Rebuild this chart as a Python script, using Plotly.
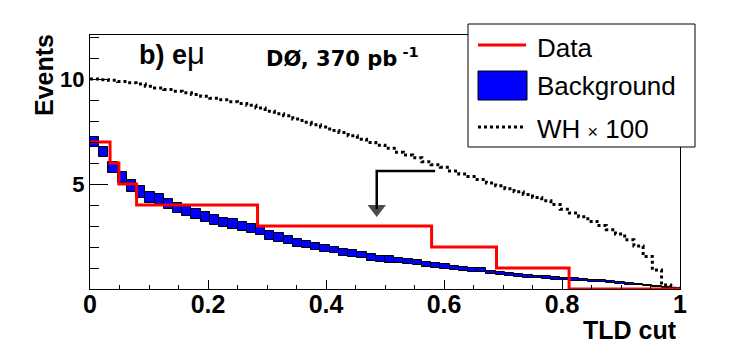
import plotly.graph_objects as go

# ---------------- data ----------------
n_bins = 64
bin_width = 1.0 / n_bins
bin_left = [i * bin_width for i in range(n_bins)]
bin_centers = [(i + 0.5) * bin_width for i in range(n_bins)]

# expected background (cumulative, events passing cut) and its uncertainty
bkg_center = [6.99, 6.52, 5.79, 5.30, 4.90, 4.61, 4.36, 4.29, 4.05, 3.84,
              3.74, 3.56, 3.41, 3.28, 3.18, 3.08, 2.96, 2.88, 2.75, 2.54,
              2.45, 2.34, 2.19, 2.12, 2.03, 1.95, 1.86, 1.75, 1.70, 1.62,
              1.49, 1.44, 1.40, 1.36, 1.31, 1.25, 1.18, 1.12, 1.07, 1.01,
              0.95, 0.90, 0.90, 0.79, 0.73, 0.68, 0.64, 0.60, 0.57, 0.54,
              0.50, 0.48, 0.46, 0.42, 0.40, 0.36, 0.34, 0.29, 0.24, 0.22,
              0.17, 0.12, 0.07, 0.03]
bkg_err = [0.24, 0.25, 0.27, 0.26, 0.29, 0.29, 0.25, 0.24, 0.26, 0.24,
           0.25, 0.24, 0.24, 0.23, 0.22, 0.24, 0.21, 0.20, 0.19, 0.21,
           0.20, 0.20, 0.18, 0.18, 0.17, 0.17, 0.16, 0.17, 0.16, 0.16,
           0.16, 0.15, 0.15, 0.14, 0.12, 0.12, 0.11, 0.10, 0.10, 0.10,
           0.10, 0.10, 0.10, 0.09, 0.08, 0.08, 0.07, 0.07, 0.06, 0.06,
           0.06, 0.06, 0.06, 0.05, 0.05, 0.05, 0.05, 0.04, 0.04, 0.04,
           0.03, 0.02, 0.02, 0.01]

# WH signal x 100
signal = [10.00, 9.97, 9.94, 9.88, 9.82, 9.76, 9.66, 9.58, 9.50, 9.42,
          9.35, 9.27, 9.18, 9.09, 9.01, 8.92, 8.84, 8.75, 8.62, 8.47,
          8.35, 8.25, 8.10, 7.94, 7.83, 7.72, 7.55, 7.45, 7.30, 7.13,
          6.98, 6.85, 6.70, 6.52, 6.38, 6.25, 6.06, 5.92, 5.80, 5.62,
          5.48, 5.36, 5.22, 5.05, 4.92, 4.78, 4.63, 4.50, 4.36, 4.20,
          4.02, 3.80, 3.62, 3.44, 3.22, 3.02, 2.82, 2.62, 2.35, 2.05,
          1.55, 0.90, 0.19, 0.04]

# observed data (cumulative counts)
data_edges = [0.0, 0.034, 0.049, 0.079, 0.284, 0.579, 0.689, 0.812, 1.0]
data_counts = [7, 6, 5, 4, 3, 2, 1, 0]

# chosen cut arrow (tail -> corner -> head)
arrow_x = [0.585, 0.486, 0.486]
arrow_y = [5.62, 5.62, 3.81]

x_tick_vals = [0, 0.2, 0.4, 0.6, 0.8, 1.0]
x_tick_text = ["0", "0.2", "0.4", "0.6", "0.8", "1"]
y_tick_vals = [5, 10]
y_tick_text = ["5", "10"]

# ---------------- figure ----------------
fig = go.Figure()

fig.add_trace(go.Bar(
    x=bin_centers,
    y=[2 * e for e in bkg_err],
    base=[c - e for c, e in zip(bkg_center, bkg_err)],
    width=bin_width,
    marker=dict(color="#0000ff", line=dict(color="black", width=1)),
    showlegend=False,
    hoverinfo="skip",
))

fig.add_trace(go.Scatter(
    x=bin_left + [1.0],
    y=signal + [signal[-1]],
    mode="lines",
    line=dict(color="black", width=3, dash="3px,3px", shape="hv"),
    showlegend=False,
    hoverinfo="skip",
))

fig.add_trace(go.Scatter(
    x=data_edges,
    y=data_counts + [data_counts[-1]],
    mode="lines",
    line=dict(color="#ff0000", width=3, shape="hv"),
    showlegend=False,
    hoverinfo="skip",
))

# arrow marking the chosen cut
fig.add_trace(go.Scatter(
    x=arrow_x, y=arrow_y,
    mode="lines+markers",
    line=dict(color="black", width=2.5),
    marker=dict(symbol="triangle-down", size=[0, 0, 16], color="black",
                line=dict(width=0)),
    showlegend=False,
    hoverinfo="skip",
))

FONT = "Liberation Sans, Arial, Helvetica, sans-serif"

fig.update_layout(
    width=756, height=352,
    margin=dict(l=90, r=76, t=35, b=63, pad=0),
    paper_bgcolor="white", plot_bgcolor="white",
    bargap=0,
    showlegend=False,
    font=dict(family=FONT, color="black"),
    xaxis=dict(
        range=[0, 1], showgrid=False, zeroline=False,
        showline=True, linecolor="black", linewidth=1, mirror=True,
        ticks="inside", ticklen=9, tickwidth=1, tickcolor="black",
        tickmode="array", tickvals=x_tick_vals, ticktext=x_tick_text,
        ticklabelstandoff=-7,
        tickfont=dict(family=FONT, size=25, weight="bold", color="black"),
        minor=dict(ticks="inside", ticklen=4, tickwidth=1, tickcolor="black",
                   tickmode="linear", tick0=0, dtick=0.05, showgrid=False),
    ),
    yaxis=dict(
        range=[0, 12.1], showgrid=False, zeroline=False,
        showline=True, linecolor="black", linewidth=1, mirror=True,
        ticks="inside", ticklen=18, tickwidth=1, tickcolor="black",
        tickmode="array", tickvals=y_tick_vals, ticktext=y_tick_text,
        tickfont=dict(family=FONT, size=22, weight="bold", color="black"),
        minor=dict(ticks="inside", ticklen=9, tickwidth=1, tickcolor="black",
                   tickmode="linear", tick0=0, dtick=1, showgrid=False),
    ),
)

def px2paper(px, py):
    return (px - 90) / 590.0, (289 - py) / 254.0

# texts
x, y = px2paper(137, 54)
fig.add_annotation(xref="paper", yref="paper", x=x, y=y, xanchor="left", yanchor="middle",
                   text="<b>b) e</b><span style='font-size:31px'>μ</span>", showarrow=False,
                   font=dict(family=FONT, size=27, color="black"))
x, y = px2paper(264, 57)
fig.add_annotation(xref="paper", yref="paper", x=x, y=y, xanchor="left", yanchor="middle",
                   text="<b>DØ, 370 pb<sup> -1</sup></b>", showarrow=False,
                   font=dict(family="DejaVu Sans", size=21, color="black"))
x, y = px2paper(44, 75)
fig.add_annotation(xref="paper", yref="paper", x=x, y=y, xanchor="center", yanchor="middle",
                   text="<b>Events</b>", textangle=-90, showarrow=False,
                   font=dict(family=FONT, size=25, color="black"))
x, y = px2paper(679, 330)
fig.add_annotation(xref="paper", yref="paper", x=x, y=y, xanchor="right", yanchor="middle",
                   text="<b>TLD cut</b>", showarrow=False,
                   font=dict(family=FONT, size=25, color="black"))

# legend box
x0, y0 = px2paper(468, 147)
x1, y1 = px2paper(695, 24)
fig.add_shape(type="rect", xref="paper", yref="paper", x0=x0, y0=y0, x1=x1, y1=y1,
              fillcolor="white", line=dict(color="black", width=1), layer="above")
a, b = px2paper(478, 45)
c, _ = px2paper(526, 45)
fig.add_shape(type="line", xref="paper", yref="paper", x0=a, y0=b, x1=c, y1=b,
              line=dict(color="#ff0000", width=3), layer="above")
a, b = px2paper(478, 100)
c, d = px2paper(527, 71)
fig.add_shape(type="rect", xref="paper", yref="paper", x0=a, y0=b, x1=c, y1=d,
              fillcolor="#0000ff", line=dict(color="black", width=1), layer="above")
a, b = px2paper(478, 127)
c, _ = px2paper(523, 127)
fig.add_shape(type="line", xref="paper", yref="paper", x0=a, y0=b, x1=c, y1=b,
              line=dict(color="black", width=3, dash="3px,3px"), layer="above")

for label, py in [("Data", 48), ("Background", 86), ("WH <span style='font-size:18px'>×</span> 100", 129)]:
    x, y = px2paper(535, py)
    fig.add_annotation(xref="paper", yref="paper", x=x, y=y, xanchor="left", yanchor="middle",
                       text=label, showarrow=False,
                       font=dict(family=FONT, size=26, color="black"))

fig.write_html("out.html", config=dict(displayModeBar=False))
